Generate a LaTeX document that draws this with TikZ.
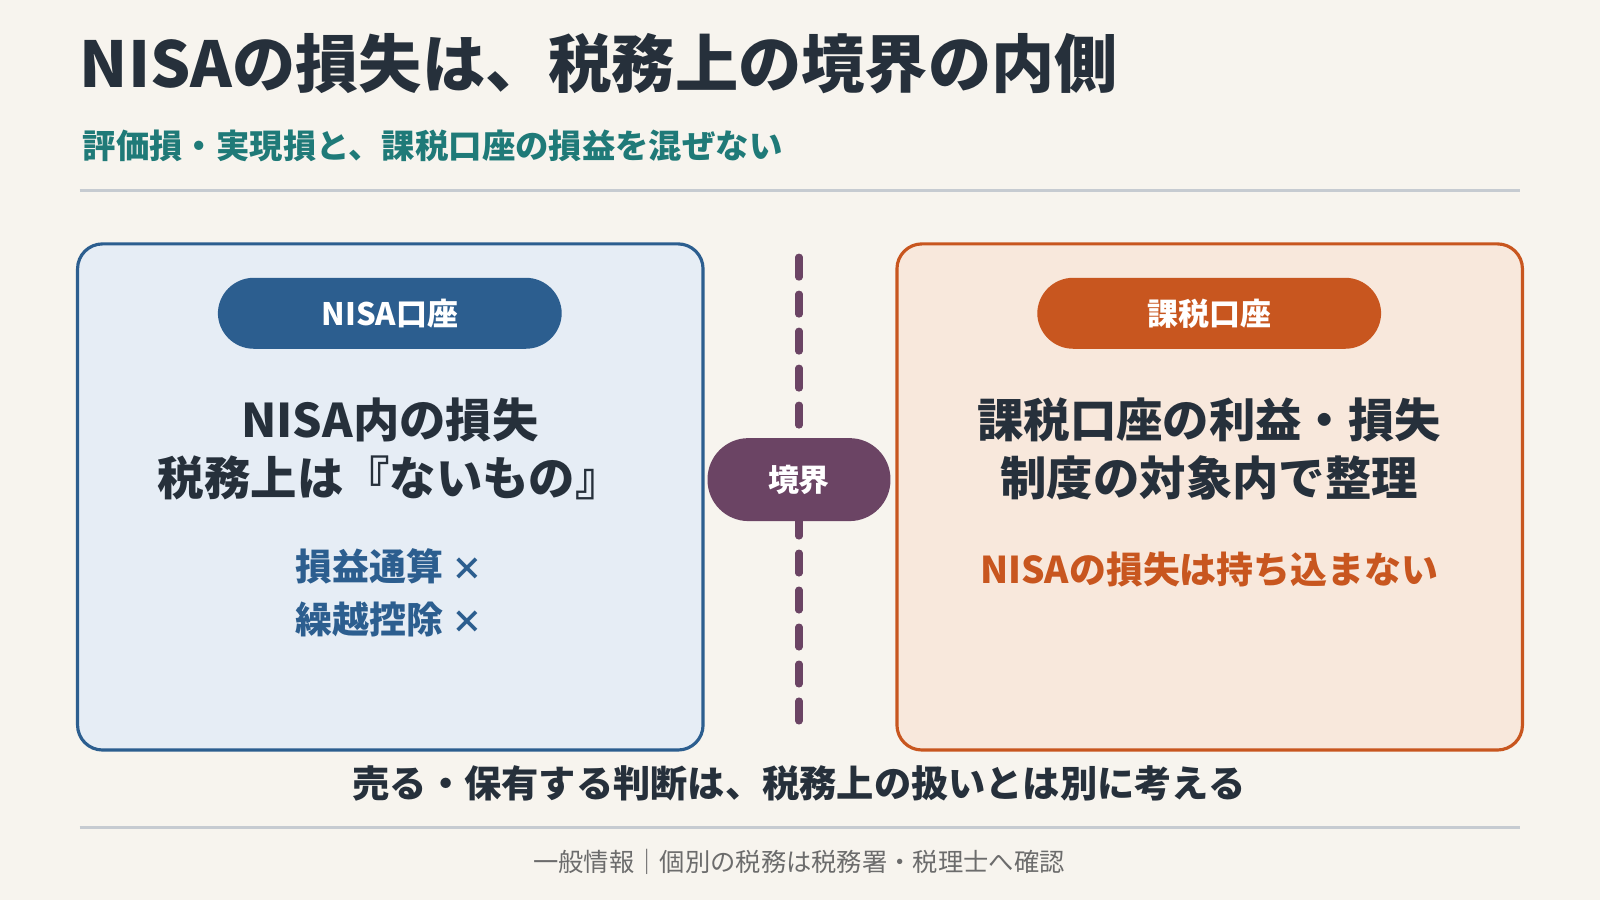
\documentclass[tikz,border=0pt]{standalone}
\usepackage{fontspec}
\setmainfont{Noto Sans CJK JP}
\definecolor{bgcol}{HTML}{F7F4EE}
\definecolor{inkcol}{HTML}{26303B}
\definecolor{tealcol}{HTML}{1F7A78}
\definecolor{rulecol}{HTML}{C6CBD1}
\definecolor{bluecol}{HTML}{2C5E8F}
\definecolor{bluefill}{HTML}{E6EDF5}
\definecolor{orgcol}{HTML}{C8561F}
\definecolor{orgfill}{HTML}{F8E8DC}
\definecolor{purcol}{HTML}{6B4464}
\begin{document}
\begin{tikzpicture}[x=0.010204cm,y=-0.010204cm,
  panel/.style={line width=0.9pt, rounded corners=0.25cm},
  pill/.style={rounded corners=0.36cm, minimum width=3.44cm, minimum height=0.71cm,
    text=white, font=\fontsize{8.8}{8.8}\selectfont\bfseries},
  bigtext/.style={text=inkcol, align=center, font=\fontsize{13.2}{16.5}\selectfont\bfseries},
  midtext/.style={align=center, font=\fontsize{10.5}{15}\selectfont\bfseries}]
  \fill[bgcol] (0,0) rectangle (1568,882);
  \useasboundingbox (0,0) rectangle (1568,882);
  % header
  \node[anchor=west, text=inkcol, font=\fontsize{18}{18}\selectfont\bfseries] (title) at (66,62) {NISAの損失は、税務上の境界の内側};
  \node[anchor=west, text=tealcol, font=\fontsize{9.5}{9.5}\selectfont\bfseries] (sub) at (69,143) {評価損・実現損と、課税口座の損益を混ぜない};
  \draw[rulecol, line width=0.8pt] (78,187) -- (1490,187);
  % panels
  \draw[panel, bluecol, fill=bluefill] (76,239) rectangle (689,735);
  \draw[panel, orgcol, fill=orgfill] (879,239) rectangle (1492,735);
  \node[pill, fill=bluecol] (nisa) at (382,307) {NISA口座};
  \node[pill, fill=orgcol] (kazei) at (1185,307) {課税口座};
  \node[bigtext] (ltext) at (382,440) {NISA内の損失\\税務上は『ないもの』};
  \node[midtext, text=bluecol] (lsub) at (382,581) {損益通算 {\small ×}\\繰越控除 {\small ×}};
  \node[bigtext] (rtext) at (1185,440) {課税口座の利益・損失\\制度の対象内で整理};
  \node[midtext, text=orgcol] (rsub) at (1185,558) {NISAの損失は持ち込まない};
  % boundary
  \coordinate (btop) at (783,252);
  \coordinate (bbot) at (783,715);
  \draw[purcol, line width=2pt, dash pattern=on 0.2cm off 0.17cm, line cap=round] (btop) -- (bbot);
  \node[pill, fill=purcol, minimum width=1.83cm, minimum height=0.83cm, rounded corners=0.41cm] (border) at (783,470) {境界};
  % footer
  \node[text=inkcol, font=\fontsize{10.6}{10.6}\selectfont\bfseries] (note) at (783,768) {売る・保有する判断は、税務上の扱いとは別に考える};
  \draw[rulecol, line width=0.8pt] (78,811) -- (1490,811);
  \node[text=gray!85!black, font=\fontsize{7.2}{7.2}\selectfont] (foot) at (783,845) {一般情報｜個別の税務は税務署・税理士へ確認};
\end{tikzpicture}
\end{document}
